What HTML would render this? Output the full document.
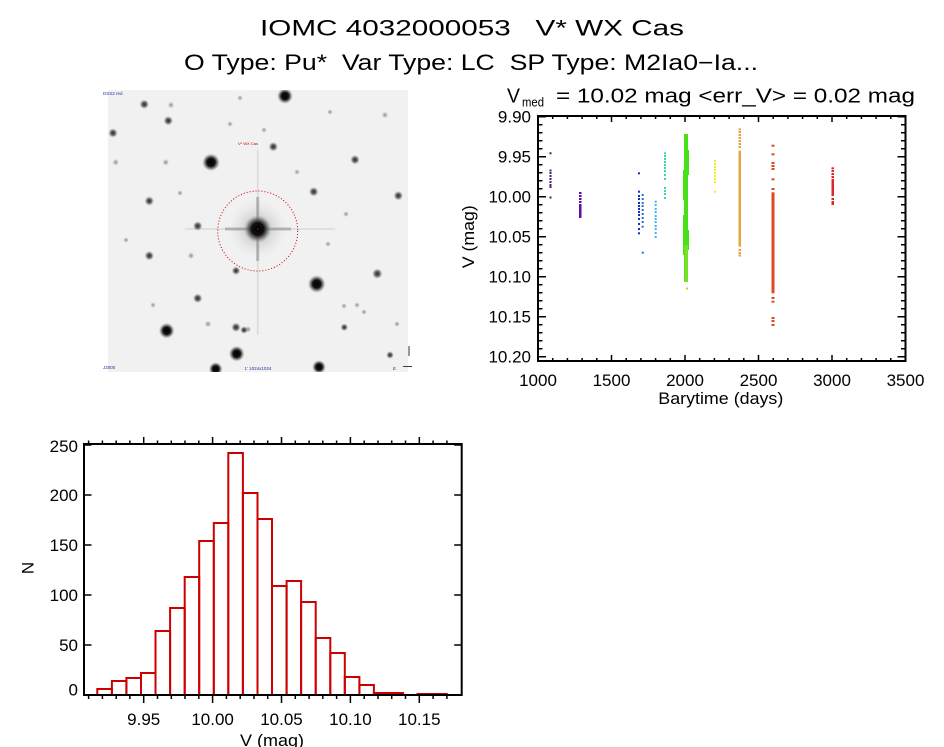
<!DOCTYPE html>
<html><head><meta charset="utf-8"><style>
html,body{margin:0;padding:0;background:#fff;}
svg{display:block;}
text{font-family:"Liberation Sans",sans-serif;fill:#000;white-space:pre;}
</style></head><body>
<svg width="944" height="747" viewBox="0 0 944 747" xmlns="http://www.w3.org/2000/svg" xml:space="preserve">
<defs>
<radialGradient id="sb"><stop offset="0" stop-color="#000"/><stop offset="0.45" stop-color="#111"/><stop offset="0.7" stop-color="#555" stop-opacity="0.7"/><stop offset="1" stop-color="#aaa" stop-opacity="0"/></radialGradient>
<radialGradient id="sm"><stop offset="0" stop-color="#222"/><stop offset="0.5" stop-color="#555" stop-opacity="0.8"/><stop offset="1" stop-color="#bbb" stop-opacity="0"/></radialGradient>
<radialGradient id="sf"><stop offset="0" stop-color="#888"/><stop offset="0.6" stop-color="#aaa" stop-opacity="0.5"/><stop offset="1" stop-color="#ccc" stop-opacity="0"/></radialGradient>
<radialGradient id="halo"><stop offset="0" stop-color="#888" stop-opacity="0.7"/><stop offset="0.5" stop-color="#bbb" stop-opacity="0.4"/><stop offset="1" stop-color="#ddd" stop-opacity="0"/></radialGradient>
<clipPath id="img"><rect x="108" y="90" width="300" height="282"/></clipPath>
</defs>
<rect width="944" height="747" fill="#fff"/>

<!-- Titles -->
<text x="472" y="35.7" font-size="22" text-anchor="middle" textLength="424" lengthAdjust="spacingAndGlyphs">IOMC 4032000053   V* WX Cas</text>
<text x="471" y="70" font-size="22" text-anchor="middle" textLength="574" lengthAdjust="spacingAndGlyphs">O Type: Pu*  Var Type: LC  SP Type: M2Ia0−Ia...</text>

<!-- Sky image -->
<g clip-path="url(#img)">
<rect x="108" y="90" width="300" height="282" fill="#f1f1f1"/>
<g fill="url(#sf)">
<circle cx="171" cy="105" r="3.5"/><circle cx="115.7" cy="162.3" r="3.5"/><circle cx="165.7" cy="162.3" r="3.5"/><circle cx="385" cy="115" r="3.5"/><circle cx="330" cy="112" r="3"/><circle cx="191" cy="255.7" r="3.5"/><circle cx="208" cy="324" r="3.5"/><circle cx="248" cy="329.3" r="3.5"/><circle cx="346" cy="214" r="3"/><circle cx="357" cy="305" r="3"/><circle cx="344" cy="306" r="3"/><circle cx="264" cy="130" r="3"/><circle cx="230" cy="124" r="3"/><circle cx="397" cy="324" r="3"/><circle cx="126" cy="240" r="3"/><circle cx="153" cy="305" r="3"/><circle cx="240" cy="98" r="3"/><circle cx="297" cy="172" r="3"/><circle cx="328" cy="244" r="3"/><circle cx="364" cy="312" r="3"/><circle cx="180" cy="193" r="3"/>
</g>
<circle cx="257.7" cy="229" r="30" fill="url(#halo)"/>
<rect x="185" y="228.2" width="150" height="1.6" fill="#aaa" opacity="0.3"/>
<rect x="225" y="227.5" width="66" height="3" fill="#777" opacity="0.45"/>
<rect x="256.9" y="150" width="1.6" height="185" fill="#aaa" opacity="0.3"/>
<rect x="256.2" y="197" width="3" height="64" fill="#777" opacity="0.45"/>
<circle cx="257.7" cy="229" r="14" fill="url(#sb)"/>
<g fill="url(#sm)">
<circle cx="144.3" cy="104.3" r="5"/><circle cx="168.3" cy="120.7" r="5"/><circle cx="113" cy="133" r="5"/><circle cx="273.3" cy="146.7" r="5"/><circle cx="355" cy="159.7" r="5"/><circle cx="149.3" cy="201" r="5"/><circle cx="313.7" cy="191.7" r="5"/><circle cx="398.3" cy="195.7" r="5"/><circle cx="197.7" cy="226" r="5"/><circle cx="149.3" cy="255.7" r="5"/><circle cx="377.3" cy="273.7" r="5.5"/><circle cx="236" cy="270.7" r="4.5"/><circle cx="197.7" cy="298.3" r="5"/><circle cx="236" cy="327.3" r="5"/><circle cx="390" cy="355" r="4"/><circle cx="344.3" cy="327.3" r="4"/><circle cx="244" cy="330" r="4"/>
</g>
<g fill="url(#sb)">
<circle cx="285" cy="96" r="8"/><circle cx="211" cy="162.3" r="9"/><circle cx="316.7" cy="284" r="9"/><circle cx="166.7" cy="330.7" r="8"/><circle cx="236.7" cy="353.7" r="8"/><circle cx="215.7" cy="369" r="7"/><circle cx="319" cy="367" r="7"/>
</g>
<circle cx="257.7" cy="231" r="40" fill="none" stroke="#cc0000" stroke-width="1" stroke-dasharray="1 2"/>
<circle cx="257.7" cy="229" r="0.8" fill="#cc0000"/>
<text x="248" y="145" font-size="4" style="fill:#cc0000" text-anchor="middle">V* WX Cas</text>
</g>
<text x="103" y="95" font-size="4.5" style="fill:#223399">DSS2 red</text>
<text x="103" y="369" font-size="4.5" style="fill:#223399">J2000</text>
<text x="258" y="370" font-size="4.5" style="fill:#223399" text-anchor="middle">1' 1024x1024</text>
<text x="393" y="370" font-size="4.5" style="fill:#223399">E</text>
<path d="M409 346v10M403 366.5h9" stroke="#000" stroke-width="0.8" fill="none"/>

<!-- Light curve title -->
<text x="507" y="102.7" font-size="20" textLength="13" lengthAdjust="spacingAndGlyphs">V</text>
<text x="522" y="106.5" font-size="13" textLength="22" lengthAdjust="spacingAndGlyphs">med</text>
<text x="556" y="102.7" font-size="20" textLength="359" lengthAdjust="spacingAndGlyphs">= 10.02 mag &lt;err_V&gt; = 0.02 mag</text>

<!-- Light curve data -->
<g fill="#4e1a74">
<rect x="549.5" y="152.3" width="2" height="2"/><rect x="549.5" y="169.5" width="2" height="2"/><rect x="549.5" y="172" width="2" height="2"/><rect x="549.5" y="175" width="2" height="2"/><rect x="549.5" y="178" width="2" height="2"/><rect x="549.5" y="181" width="2" height="2"/><rect x="549.5" y="184" width="2" height="2"/><rect x="549.5" y="186" width="2" height="2"/><rect x="549.5" y="196.5" width="2" height="2"/>
</g>
<g fill="#5a10a0">
<rect x="579" y="192" width="2.5" height="2"/><rect x="579" y="195" width="2.5" height="2"/><rect x="579" y="198" width="2.5" height="2"/><rect x="579" y="201" width="2.5" height="2"/><rect x="579" y="204" width="2.5" height="2"/><rect x="579" y="206" width="2.5" height="12"/>
</g>
<g fill="#1030c0">
<rect x="638" y="172.3" width="2" height="2"/><rect x="638" y="190.7" width="2" height="2"/><rect x="638" y="195" width="2" height="2"/><rect x="638" y="198" width="2" height="2"/><rect x="638" y="202" width="2" height="2"/><rect x="638" y="205" width="2" height="2"/><rect x="638" y="208" width="2" height="2"/><rect x="638" y="211" width="2" height="2"/><rect x="638" y="214" width="2" height="2"/><rect x="638" y="218" width="2" height="2"/><rect x="638" y="223" width="2" height="2"/><rect x="638" y="228" width="2" height="2"/><rect x="638" y="232.3" width="2" height="2"/>
</g>
<g fill="#2870d8">
<rect x="641.7" y="194" width="2" height="2"/><rect x="641.7" y="198" width="2" height="2"/><rect x="641.7" y="202" width="2" height="2"/><rect x="641.7" y="205" width="2" height="2"/><rect x="641.7" y="209" width="2" height="2"/><rect x="641.7" y="213" width="2" height="2"/><rect x="641.7" y="217" width="2" height="2"/><rect x="641.7" y="221" width="2" height="2"/><rect x="641.7" y="225.7" width="2" height="2"/><rect x="641.7" y="251.7" width="2" height="2"/>
</g>
<g fill="#38b8e8">
<rect x="654.7" y="200.7" width="2" height="2"/><rect x="654.7" y="204" width="2" height="2"/><rect x="654.7" y="208" width="2" height="2"/><rect x="654.7" y="211" width="2" height="2"/><rect x="654.7" y="215" width="2" height="2"/><rect x="654.7" y="218" width="2" height="2"/><rect x="654.7" y="221" width="2" height="2"/><rect x="654.7" y="225" width="2" height="2"/><rect x="654.7" y="228" width="2" height="2"/><rect x="654.7" y="232" width="2" height="2"/><rect x="654.7" y="236" width="2" height="2"/>
</g>
<g fill="#38d8a8">
<rect x="664" y="152.3" width="2" height="2"/><rect x="664" y="155" width="2" height="2"/><rect x="664" y="158" width="2" height="2"/><rect x="664" y="161" width="2" height="2"/><rect x="664" y="164" width="2" height="2"/><rect x="664" y="167" width="2" height="2"/><rect x="664" y="170" width="2" height="2"/><rect x="664" y="174" width="2" height="2"/><rect x="664" y="178" width="2" height="2"/><rect x="664" y="187" width="2" height="2"/><rect x="664" y="190" width="2" height="2"/><rect x="664" y="193" width="2" height="2"/><rect x="664" y="197" width="2" height="2"/>
</g>
<g fill="#48e018">
<rect x="684" y="134" width="4" height="148"/>
<rect x="683" y="170" width="1.5" height="30"/><rect x="687.5" y="150" width="1.5" height="25"/><rect x="683" y="215" width="1.5" height="40"/><rect x="687.5" y="230" width="1.5" height="20"/>
</g>
<rect x="684.5" y="245" width="3.5" height="37" fill="#78e028"/>
<rect x="686" y="287.5" width="2" height="2" fill="#90e040"/>
<g fill="#f0f028">
<rect x="714" y="160" width="2" height="2"/><rect x="714" y="163" width="2" height="2"/><rect x="714" y="166" width="2" height="2"/><rect x="714" y="169" width="2" height="2"/><rect x="714" y="172" width="2" height="2"/><rect x="714" y="175" width="2" height="2"/><rect x="714" y="178" width="2" height="2"/><rect x="714" y="181" width="2" height="2"/><rect x="714" y="190.7" width="2" height="2"/>
</g>
<g fill="#e0a840">
<rect x="738.5" y="128.3" width="2.5" height="2"/><rect x="738.5" y="131" width="2.5" height="2"/><rect x="738.5" y="134" width="2.5" height="2"/><rect x="738.5" y="137" width="2.5" height="2"/><rect x="738.5" y="140" width="2.5" height="2"/><rect x="738.5" y="143" width="2.5" height="2"/><rect x="738.5" y="146" width="2.5" height="2"/><rect x="738.5" y="150.7" width="2.5" height="96"/><rect x="738.5" y="249" width="2.5" height="2"/><rect x="738.5" y="252" width="2.5" height="2"/><rect x="738.5" y="254.5" width="2.5" height="2"/>
</g>
<g fill="#e04820">
<rect x="771.5" y="144.7" width="3" height="2"/><rect x="771.5" y="153.3" width="3" height="2"/><rect x="771.5" y="162" width="3" height="2"/><rect x="771.5" y="165" width="3" height="2"/><rect x="771.5" y="168" width="3" height="2"/><rect x="771.5" y="178.3" width="3" height="2"/><rect x="771.5" y="188" width="3" height="2"/><rect x="771.5" y="192.3" width="3" height="101"/><rect x="771.5" y="297" width="3" height="2"/><rect x="771.5" y="300.7" width="3" height="2"/><rect x="771.5" y="317" width="3" height="2"/><rect x="771.5" y="320" width="3" height="2"/><rect x="771.5" y="324" width="3" height="2"/>
</g>
<g fill="#d82828">
<rect x="831.5" y="167.3" width="2.5" height="2"/><rect x="831.5" y="170" width="2.5" height="2"/><rect x="831.5" y="173" width="2.5" height="2"/><rect x="831.5" y="176" width="2.5" height="2"/><rect x="831.5" y="179" width="2.5" height="17"/><rect x="831.5" y="198" width="2.5" height="2"/><rect x="831.5" y="201" width="2.5" height="2"/><rect x="831.5" y="203" width="2.5" height="2"/>
</g>

<!-- Light curve axes -->
<rect x="538" y="116" width="367.5" height="245" fill="none" stroke="#000" stroke-width="2"/>
<path stroke="#000" stroke-width="1.5" fill="none" d="
M538 116.7h8M538 156.7h8M538 196.7h8M538 236.7h8M538 276.7h8M538 316.7h8M538 356.7h8
M905.5 116.7h-8M905.5 156.7h-8M905.5 196.7h-8M905.5 236.7h-8M905.5 276.7h-8M905.5 316.7h-8M905.5 356.7h-8
M538 124.7h4.5M538 132.7h4.5M538 140.7h4.5M538 148.7h4.5M538 164.7h4.5M538 172.7h4.5M538 180.7h4.5M538 188.7h4.5M538 204.7h4.5M538 212.7h4.5M538 220.7h4.5M538 228.7h4.5M538 244.7h4.5M538 252.7h4.5M538 260.7h4.5M538 268.7h4.5M538 284.7h4.5M538 292.7h4.5M538 300.7h4.5M538 308.7h4.5M538 324.7h4.5M538 332.7h4.5M538 340.7h4.5M538 348.7h4.5
M905.5 124.7h-4.5M905.5 132.7h-4.5M905.5 140.7h-4.5M905.5 148.7h-4.5M905.5 164.7h-4.5M905.5 172.7h-4.5M905.5 180.7h-4.5M905.5 188.7h-4.5M905.5 204.7h-4.5M905.5 212.7h-4.5M905.5 220.7h-4.5M905.5 228.7h-4.5M905.5 244.7h-4.5M905.5 252.7h-4.5M905.5 260.7h-4.5M905.5 268.7h-4.5M905.5 284.7h-4.5M905.5 292.7h-4.5M905.5 300.7h-4.5M905.5 308.7h-4.5M905.5 324.7h-4.5M905.5 332.7h-4.5M905.5 340.7h-4.5M905.5 348.7h-4.5
M611.5 361v-6M685 361v-6M758.5 361v-6M832 361v-6
M611.5 116v6M685 116v6M758.5 116v6M832 116v6
M552.7 361v-3M567.4 361v-3M582.1 361v-3M596.8 361v-3M626.2 361v-3M640.9 361v-3M655.6 361v-3M670.3 361v-3M699.7 361v-3M714.4 361v-3M729.1 361v-3M743.8 361v-3M773.2 361v-3M787.9 361v-3M802.6 361v-3M817.3 361v-3M846.7 361v-3M861.4 361v-3M876.1 361v-3M890.8 361v-3
M552.7 116v3M567.4 116v3M582.1 116v3M596.8 116v3M626.2 116v3M640.9 116v3M655.6 116v3M670.3 116v3M699.7 116v3M714.4 116v3M729.1 116v3M743.8 116v3M773.2 116v3M787.9 116v3M802.6 116v3M817.3 116v3M846.7 116v3M861.4 116v3M876.1 116v3M890.8 116v3"/>
<g font-size="17" text-anchor="end">
<text x="531" y="122.7">9.90</text><text x="531" y="162.7">9.95</text><text x="531" y="202.7">10.00</text><text x="531" y="242.7">10.05</text><text x="531" y="282.7">10.10</text><text x="531" y="322.7">10.15</text><text x="531" y="362.7">10.20</text>
</g>
<g font-size="17" text-anchor="middle">
<text x="538" y="386">1000</text><text x="611.5" y="386">1500</text><text x="685" y="386">2000</text><text x="758.5" y="386">2500</text><text x="832" y="386">3000</text><text x="905.5" y="386">3500</text>
</g>
<text x="720.8" y="404" font-size="17" text-anchor="middle" textLength="125" lengthAdjust="spacingAndGlyphs">Barytime (days)</text>
<text transform="translate(474 236.7) rotate(-90)" font-size="17" text-anchor="middle" textLength="63" lengthAdjust="spacingAndGlyphs">V (mag)</text>

<!-- Histogram bars -->
<g fill="none" stroke="#cc0000" stroke-width="2">
<rect x="97.3" y="689" width="14.6" height="6"/>
<rect x="111.9" y="681" width="14.5" height="14"/>
<rect x="126.4" y="678" width="14.6" height="17"/>
<rect x="141" y="673" width="14.5" height="22"/>
<rect x="155.5" y="631" width="14.6" height="64"/>
<rect x="170.1" y="608" width="14.6" height="87"/>
<rect x="184.7" y="577" width="14.5" height="118"/>
<rect x="199.2" y="541" width="14.6" height="154"/>
<rect x="213.8" y="523" width="14.5" height="172"/>
<rect x="228.3" y="453" width="14.6" height="242"/>
<rect x="242.9" y="493" width="14.6" height="202"/>
<rect x="257.5" y="519" width="14.5" height="176"/>
<rect x="272" y="586" width="14.6" height="109"/>
<rect x="286.6" y="581" width="14.5" height="114"/>
<rect x="301.1" y="602" width="14.6" height="93"/>
<rect x="315.7" y="638" width="14.6" height="57"/>
<rect x="330.3" y="653" width="14.5" height="42"/>
<rect x="344.8" y="677" width="14.6" height="18"/>
<rect x="359.4" y="685" width="14.5" height="10"/>
<rect x="373.9" y="693" width="14.6" height="2"/>
<rect x="388.5" y="693" width="14.6" height="2"/>
<path d="M403.1 695H417.6"/>
<rect x="417.6" y="694" width="14.6" height="1"/>
<rect x="432.2" y="694" width="14.5" height="1"/>
</g>

<!-- Histogram axes -->
<rect x="84" y="444" width="377.7" height="251" fill="none" stroke="#000" stroke-width="2"/>
<path stroke="#000" stroke-width="1.5" fill="none" d="
M84 695h7.5M84 645h7.5M84 595h7.5M84 545h7.5M84 495h7.5M84 445h7.5
M461.7 695h-7.5M461.7 645h-7.5M461.7 595h-7.5M461.7 545h-7.5M461.7 495h-7.5M461.7 445h-7.5
M143.7 695v8M212.6 695v8M281.5 695v8M350.4 695v8M419.3 695v8
M143.7 444v-7M212.6 444v-7M281.5 444v-7M350.4 444v-7M419.3 444v-7
M88.6 695v4M102.4 695v4M116.2 695v4M129.9 695v4M157.5 695v4M171.3 695v4M185 695v4M198.8 695v4M226.4 695v4M240.2 695v4M254 695v4M267.7 695v4M295.3 695v4M309.1 695v4M322.8 695v4M336.6 695v4M364.2 695v4M378 695v4M391.7 695v4M405.5 695v4M433.1 695v4M446.9 695v4
M88.6 444v-3.5M102.4 444v-3.5M116.2 444v-3.5M129.9 444v-3.5M157.5 444v-3.5M171.3 444v-3.5M185 444v-3.5M198.8 444v-3.5M226.4 444v-3.5M240.2 444v-3.5M254 444v-3.5M267.7 444v-3.5M295.3 444v-3.5M309.1 444v-3.5M322.8 444v-3.5M336.6 444v-3.5M364.2 444v-3.5M378 444v-3.5M391.7 444v-3.5M405.5 444v-3.5M433.1 444v-3.5M446.9 444v-3.5"/>
<g font-size="17" text-anchor="end">
<text x="78" y="695.5">0</text><text x="78" y="651">50</text><text x="78" y="601">100</text><text x="78" y="551">150</text><text x="78" y="501">200</text><text x="78" y="452">250</text>
</g>
<g font-size="17" text-anchor="middle">
<text x="143.7" y="725">9.95</text><text x="212.6" y="725">10.00</text><text x="281.5" y="725">10.05</text><text x="350.4" y="725">10.10</text><text x="419.3" y="725">10.15</text>
</g>
<text x="272" y="746" font-size="17" text-anchor="middle" textLength="64" lengthAdjust="spacingAndGlyphs">V (mag)</text>
<text transform="translate(33.5 568) rotate(-90)" font-size="17" text-anchor="middle">N</text>
</svg>
</body></html>
